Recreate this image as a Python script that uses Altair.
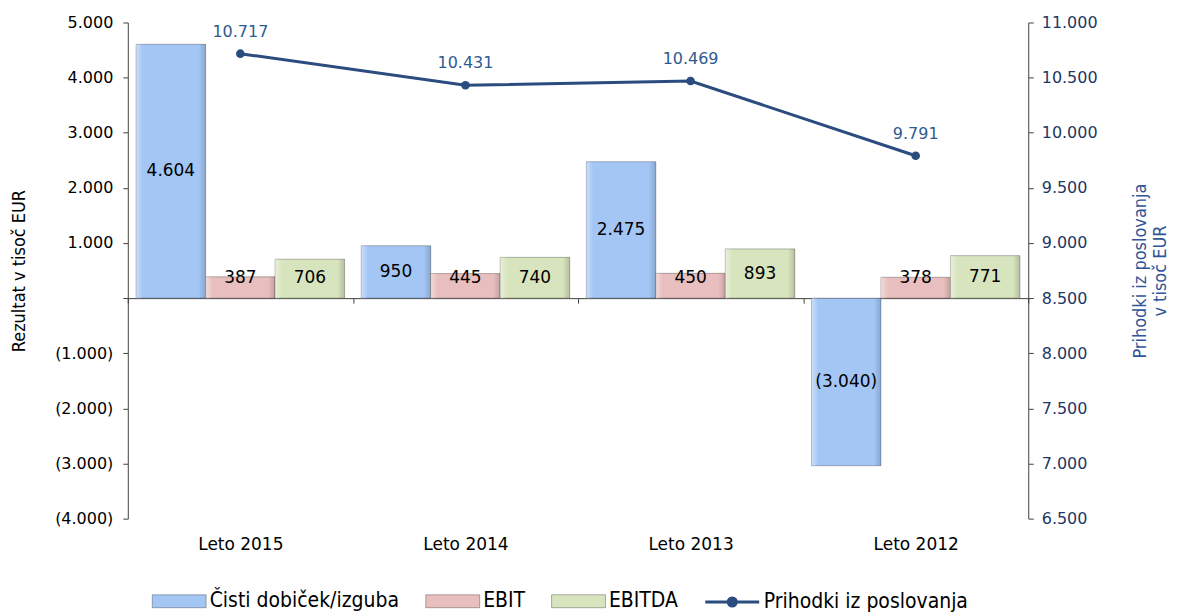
import altair as alt
import pandas as pd

# ---------------- data ----------------
years = ["Leto 2015", "Leto 2014", "Leto 2013", "Leto 2012"]
series_names = ["Čisti dobiček/izguba", "EBIT", "EBITDA"]
cisti = [4604, 950, 2475, -3040]
ebit = [387, 445, 450, 378]
ebitda = [706, 740, 893, 771]
line_name = "Prihodki iz poslovanja"
prihodki = [10717, 10431, 10469, 9791]

left_ticks = [-4000, -3000, -2000, -1000, 0, 1000, 2000, 3000, 4000, 5000]
right_ticks = [6500, 7000, 7500, 8000, 8500, 9000, 9500, 10000, 10500, 11000]

# ---------------- style ----------------
bar_colors = ["#A3C6F5", "#E8BFBE", "#D7E4BD"]
line_color = "#2B4C7E"
W, H = 902, 497
LEFT_DOMAIN = [left_ticks[0], left_ticks[-1]]
RIGHT_DOMAIN = [right_ticks[0], right_ticks[-1]]
FONT = "DejaVu Sans"
COND = "DejaVu Sans Condensed, Liberation Sans Narrow, DejaVu Sans"
LEG_W = 54                 # legend symbol width in px
LEG_Y = 579 - LEG_W / 2    # legend centre line ~ y=601 on page


def fmt(v):
    s = f"{abs(v):,}".replace(",", ".")
    return f"({s})" if v < 0 else s


rows = []
for s, vals in zip(series_names, [cisti, ebit, ebitda]):
    for yr, v in zip(years, vals):
        rows.append({"year": yr, "series": s, "value": v})
bars_df = pd.DataFrame(rows)
bars_df["label"] = bars_df["value"].map(fmt)
bars_df["label_y"] = bars_df["value"].map(lambda v: max(v / 2, 360) if v > 0 else v / 2)

line_df = pd.DataFrame({"year": years, "value": prihodki, "series": line_name})
line_df["label"] = line_df["value"].map(fmt)

zero_offset = -H * (0 - LEFT_DOMAIN[0]) / (LEFT_DOMAIN[1] - LEFT_DOMAIN[0])

x_axis = alt.Axis(title=None, orient="bottom", offset=zero_offset, tickBand="extent",
                  labelPadding=234, labelAngle=0, labelFont=FONT, labelFontSize=17,
                  labelColor="#000000", domainColor="#404040", tickColor="#404040",
                  tickSize=5, domainWidth=1)
x_scale = alt.Scale(paddingInner=0, paddingOuter=0)
x_enc = alt.X("year:N", sort=years, scale=x_scale, axis=x_axis)
xoff = alt.XOffset("series:N", sort=series_names, scale=alt.Scale(paddingOuter=0.12, paddingInner=0))

left_label_expr = ("datum.value == 0 ? '' : (datum.value < 0 ? '(' + replace(format(-datum.value, ',d'), ',', '.') + ')'"
                   " : replace(format(datum.value, ',d'), ',', '.'))")
left_axis = alt.Axis(values=left_ticks, labelExpr=left_label_expr, title="Rezultat v tisoč EUR",
                     orient="left", grid=False, labelFont=FONT, labelFontSize=16, labelColor="#000000",
                     titleFont=COND, titleFontSize=18, titleFontWeight="normal", titleColor="#000000",
                     titlePadding=26, labelPadding=10, tickSize=5, domainColor="#404040",
                     tickColor="#404040")
left_scale = alt.Scale(domain=LEFT_DOMAIN, nice=False, zero=False)

bars = alt.Chart(bars_df).mark_bar(stroke="rgba(0,0,0,0.28)", strokeWidth=1).encode(
    x=x_enc,
    xOffset=xoff,
    y=alt.Y("value:Q", scale=left_scale, axis=left_axis),
    color=alt.Color("series:N", sort=series_names,
                    scale=alt.Scale(domain=series_names, range=bar_colors),
                    legend=alt.Legend(title=None, orient="none", legendX=24, legendY=LEG_Y,
                                      direction="horizontal", columns=3,
                                      symbolType="M-1,-0.24H1V0.24H-1Z", symbolSize=LEG_W ** 2,
                                      symbolStrokeColor="rgba(0,0,0,0.3)", symbolStrokeWidth=1,
                                      symbolOpacity=1, labelFont=COND, labelFontSize=21,
                                      labelColor="#000000", labelOffset=3, columnPadding=24,
                                      labelLimit=400)),
)

gradient = alt.LinearGradient(
    gradient="linear", x1=0, x2=1, y1=0, y2=0,
    stops=[alt.GradientStop(color="rgba(255,255,255,0.45)", offset=0),
           alt.GradientStop(color="rgba(255,255,255,0)", offset=0.1),
           alt.GradientStop(color="rgba(0,0,0,0)", offset=0.9),
           alt.GradientStop(color="rgba(0,0,0,0.16)", offset=1)],
)
bevel = alt.Chart(bars_df).mark_bar(color=gradient).encode(
    x=x_enc, xOffset=xoff, y=alt.Y("value:Q", scale=left_scale, axis=left_axis),
)

bar_text = alt.Chart(bars_df).mark_text(font=FONT, fontSize=17, color="#000000", baseline="middle").encode(
    x=x_enc, xOffset=xoff,
    y=alt.Y("label_y:Q", scale=left_scale, axis=left_axis),
    text="label:N",
)

left_group = alt.layer(bars, bevel, bar_text)

right_axis = alt.Axis(values=right_ticks, labelExpr="replace(format(datum.value, ',d'), ',', '.')",
                      title=["Prihodki iz poslovanja", "v tisoč  EUR"], orient="right", grid=False,
                      labelFont=FONT, labelFontSize=16, labelColor="#1F3864",
                      titleFont=COND, titleFontSize=18, titleFontWeight="normal", titleColor="#2F5597",
                      titleAngle=270, titlePadding=31, titleLineHeight=21, labelPadding=8, tickSize=5,
                      domainColor="#404040", tickColor="#404040")
right_scale = alt.Scale(domain=RIGHT_DOMAIN, nice=False, zero=False)

line = alt.Chart(line_df).mark_line(strokeWidth=3).encode(
    x=x_enc,
    y=alt.Y("value:Q", scale=right_scale, axis=right_axis),
    stroke=alt.Stroke("series:N", scale=alt.Scale(domain=[line_name], range=[line_color]),
                      legend=alt.Legend(title=None, orient="none", legendX=577, legendY=LEG_Y,
                                        symbolType="M-1,0H1M-0.15,0A0.15,0.15,0,1,0,0.15,0A0.15,0.15,0,1,0,-0.15,0",
                                        symbolSize=LEG_W ** 2, symbolStrokeWidth=3,
                                        symbolFillColor=line_color, labelFont=COND,
                                        labelFontSize=21, labelColor="#000000", labelOffset=3,
                                        labelLimit=400)),
)
points = alt.Chart(line_df).mark_circle(size=75, color=line_color, opacity=1).encode(
    x=x_enc, y=alt.Y("value:Q", scale=right_scale, axis=right_axis),
)
line_text = alt.Chart(line_df).mark_text(font=FONT, fontSize=16, color="#2E5B8F", dy=-22).encode(
    x=x_enc, y=alt.Y("value:Q", scale=right_scale, axis=right_axis), text="label:N",
)
right_group = alt.layer(line, points, line_text)

chart = alt.layer(left_group, right_group).resolve_scale(y="independent").properties(
    width=W, height=H,
    padding={"left": 120, "top": 14, "right": 142, "bottom": 93},
    autosize=alt.AutoSizeParams(type="none"),
).configure_view(stroke=None)

chart.save("out.html", embed_options={"renderer": "svg", "actions": False})
